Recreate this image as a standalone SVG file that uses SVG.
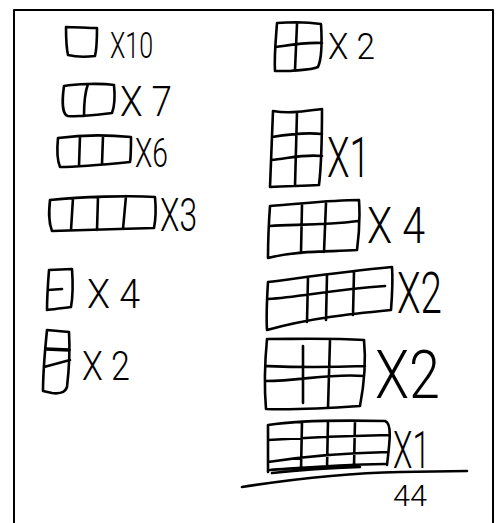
<svg xmlns="http://www.w3.org/2000/svg" width="501" height="523" viewBox="0 0 501 523">
<style>
.s{fill:none;stroke:#000;stroke-width:2.6;stroke-linecap:round;stroke-linejoin:round}
.t{font-family:"Roboto","Liberation Sans","DejaVu Sans",sans-serif;font-weight:300;fill:#000}
</style>
<rect x="0" y="0" width="501" height="523" fill="#fff"/>
<path class="s" d="M14,523 L14,10 L493,10 L493,523" style="stroke-width:2;stroke-linecap:butt"/>
<g id="one">
<path class="s" d="M66,27 C75,27 88,28 97,28 C97,38 97,48 95,56 C86,57 76,57 68,55 C66,46 66,36 66,27 Z"/>
<text class="t" x="110" y="58" font-size="36" textLength="43" lengthAdjust="spacingAndGlyphs">X10</text>
</g>
<g id="two">
<path class="s" d="M64,86 C75,84 100,83 114,85 C115,95 115,105 112,113 C95,115 80,117 68,116 C62,115 62,100 64,86 Z M88,84 C85,92 84,105 84,116"/>
<text class="t" x="120" y="116" font-size="42" textLength="52" lengthAdjust="spacingAndGlyphs">X 7</text>
</g>
<g id="three">
<path class="s" d="M58,138 C80,135 110,135 131,137 C131,147 131,157 130,162 C110,164 80,167 60,167 C57,160 57,148 58,138 Z M80,136 L79,166 M103,136 L102,164"/>
<text class="t" x="135" y="167" font-size="40" textLength="33" lengthAdjust="spacingAndGlyphs">X6</text>
</g>
<g id="four">
<path class="s" d="M50,200 C80,197 130,195 155,197 C156,208 156,218 154,228 C120,229 80,230 52,231 C48,221 49,210 50,200 Z M73,198 L71,230 M98,197 L97,230 M126,196 L123,229"/>
<text class="t" x="160" y="231" font-size="46" textLength="37" lengthAdjust="spacingAndGlyphs">X3</text>
</g>
<g id="vtwo">
<path class="s" d="M49,270 L72,269 C73,283 73,296 71,307 C63,308 56,309 47,310 C47,296 48,283 49,270 Z M48,290 L62,289"/>
<text class="t" x="87" y="308" font-size="40" textLength="53" lengthAdjust="spacingAndGlyphs">X 4</text>
</g>
<g id="vthree">
<path class="s" d="M47,330 L69,332 C70,350 69,370 67,387 C65,393 58,394 52,393 L43,391 C43,370 45,350 47,330 Z M44,367 L70,360"/>
<path class="s" d="M46,349 L69,350" style="stroke-width:3.6"/>
<text class="t" x="82" y="380" font-size="40" textLength="48" lengthAdjust="spacingAndGlyphs">X 2</text>
</g>
<g id="sq2x2">
<path class="s" d="M277,23 C290,22 308,22 321,24 C322,40 322,58 318,67 C312,70 300,70 290,71 L275,71 C274,55 276,38 277,23 Z M276,47 C290,45 305,42 322,43 M297,24 L295,70"/>
<text class="t" x="328" y="59" font-size="36" textLength="47" lengthAdjust="spacingAndGlyphs">X 2</text>
</g>
<g id="sq2x3">
<path class="s" d="M273,111 C290,114 305,111 322,109 C322,135 322,160 319,185 C303,186 288,186 270,187 C271,160 272,135 273,111 Z M297,112 L295,186 M272,137 C290,134 305,132 322,134 M271,160 C290,158 305,154 322,156"/>
<text class="t" x="327" y="177" font-size="55" textLength="43" lengthAdjust="spacingAndGlyphs">X1</text>
</g>
<g id="sq3x2">
<path class="s" d="M270,206 C300,204 330,200 359,200 C360,215 359,235 357,250 C330,252 300,250 268,258 C268,240 269,220 270,206 Z M270,226 C290,224 320,226 358,221 M302,205 L301,253 M326,203 L324,252"/>
<text class="t" x="367" y="243" font-size="50" textLength="58" lengthAdjust="spacingAndGlyphs">X 4</text>
</g>
<g id="sq4x2">
<path class="s" d="M268,282 C300,278 340,272 392,267 C393,280 392,297 391,310 C350,314 310,318 267,330 C266,314 267,298 268,282 Z M268,299 C300,297 330,290 385,286 M308,277 L307,322 M327,275 L326,320 M354,272 L353,315"/>
<text class="t" x="397" y="313" font-size="58" textLength="45" lengthAdjust="spacingAndGlyphs">X2</text>
</g>
<g id="sq3x3">
<path class="s" d="M267,339 C300,339 330,338 364,340 C366,360 364,385 360,406 C330,408 300,410 266,409 C264,385 265,360 267,339 Z M266,366 C290,367 310,368 365,366 M266,381 C300,381 330,373 364,376 M303,346 L303,403 M330,340 L328,408"/>
<text class="t" x="375" y="398" font-size="66" textLength="65" lengthAdjust="spacingAndGlyphs">X2</text>
</g>
<g id="sq4x3">
<path class="s" d="M268,472 L268,425 C300,420 340,420 385,421 C392,423 390,440 387,465 M270,470 C300,468 330,465 385,464 M272,473 C300,470 330,468 360,467 M268,440 C300,438 340,436 389,435 M268,462 C300,457 340,453 388,452 M302,422 L301,470 M328,421 L327,468 M355,421 L354,466"/>
<text class="t" x="393" y="468" font-size="52" textLength="37" lengthAdjust="spacingAndGlyphs">X1</text>
</g>
<g id="total">
<path class="s" d="M242,487 C300,478 350,473 400,472 L467,471"/>
<text class="t" x="393" y="506" font-size="30" textLength="34" lengthAdjust="spacingAndGlyphs">44</text>
</g>
</svg>
